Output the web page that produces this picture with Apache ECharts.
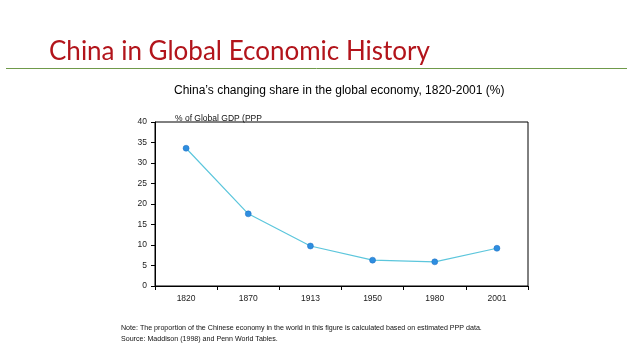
<!DOCTYPE html>
<html><head><meta charset="utf-8">
<script src="https://cdn.jsdelivr.net/npm/echarts@6/dist/echarts.min.js"></script>
<style>html,body{margin:0;padding:0;background:#fff}#c{width:638px;height:359px}</style>
</head><body><div id="c"></div>
<script>
var years = ['1820','1870','1913','1950','1980','2001'];
var shares = [33.6, 17.6, 9.75, 6.3, 5.9, 9.2];
var yTicks = [0,5,10,15,20,25,30,35,40];

var chart = echarts.init(document.getElementById('c'), null, {renderer:'canvas'});
chart.setOption({
  animation:false,
  backgroundColor:'#fff',
  title:[
    {text:'China in Global Economic History', left:44, top:34,
     textStyle:{fontFamily:'Lato', fontSize:26, fontWeight:'normal', color:'#b2141b'}},
    {text:"China’s changing share in the global economy, 1820-2001 (%)", left:169, top:80,
     textStyle:{fontFamily:'Liberation Sans', fontSize:12, fontWeight:'normal', color:'#000'}},
    {text:'% of Global GDP (PPP', left:170, top:109,
     textStyle:{fontFamily:'Liberation Sans', fontSize:8.5, fontWeight:'normal', color:'#111'}},
    {text:'Note: The proportion of the Chinese economy in the world in this figure is calculated based on estimated PPP data.\nSource: Maddison (1998) and Penn World Tables.',
     left:116, top:318,
     textStyle:{fontFamily:'Liberation Sans', fontSize:7.1, fontWeight:'normal', color:'#111', lineHeight:11}}
  ],
  graphic:[{type:'line', shape:{x1:6,y1:68.5,x2:627,y2:68.5}, style:{stroke:'#6f9a4a', lineWidth:1}}],
  grid:{left:155, top:122, width:373, height:164, show:true, borderColor:'#000', borderWidth:1},
  xAxis:{type:'category', data:years, boundaryGap:true,
    axisLine:{lineStyle:{color:'#000', width:1}},
    axisTick:{show:true, length:4, inside:false, lineStyle:{color:'#000'}},
    axisLabel:{fontFamily:'Liberation Sans', fontSize:8.5, color:'#222', margin:8}},
  yAxis:{type:'value', min:0, max:40, interval:5,
    axisLine:{show:true, lineStyle:{color:'#000'}},
    axisTick:{show:true, length:4, lineStyle:{color:'#000'}},
    splitLine:{show:false},
    axisLabel:{fontFamily:'Liberation Sans', fontSize:8.5, color:'#222', margin:8,
      formatter:function(v){return yTicks.indexOf(v)>=0?String(v):'';}}},
  series:[{type:'line', data:shares, symbol:'circle', symbolSize:6,
    lineStyle:{color:'#5cc6dc', width:1.2},
    itemStyle:{color:'#2e8ee0', borderColor:'#1f6fc0', borderWidth:0.5}}]
});
</script></body></html>
